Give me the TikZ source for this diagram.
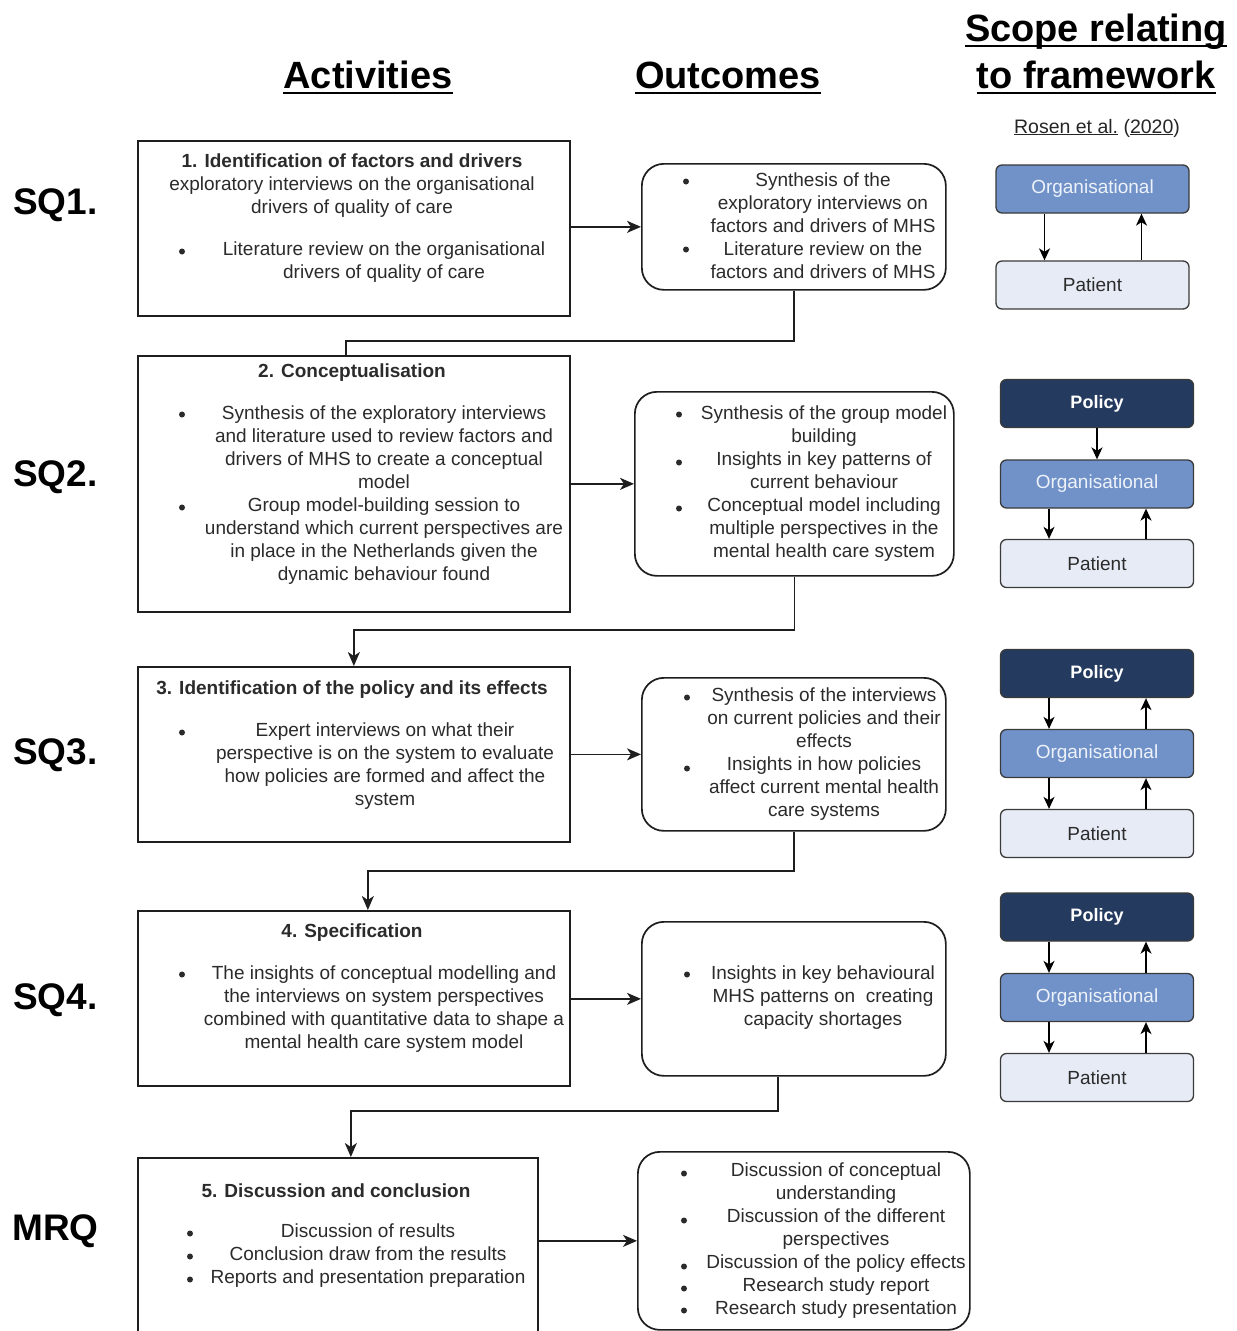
\documentclass[tikz,border=0pt]{standalone}
\usepackage{fontspec}
\setmainfont{Liberation Sans}
\usetikzlibrary{arrows.meta}
\definecolor{txtgray}{HTML}{2B2B2B}
\definecolor{edge}{HTML}{1E1E1E}
\definecolor{orgfill}{HTML}{7092C8}
\definecolor{orgtext}{HTML}{EEF2FA}
\definecolor{polfill}{HTML}{243A5F}
\definecolor{patfill}{HTML}{E6EBF5}
\definecolor{fwedge}{HTML}{3A3A3A}

\begin{document}
\begin{tikzpicture}[x=1pt,y=-1pt,
  body/.style={font=\fontsize{19}{23}\selectfont, text=txtgray, align=center, inner sep=0pt},
  bul/.style={circle, fill=txtgray, inner sep=0pt, minimum size=6pt, yshift=-1.5pt},
  actbox/.style={draw=edge, line width=1.7pt, anchor=north west, inner sep=0pt},
  outbox/.style={actbox, rounded corners=22pt},
  conn/.style={draw=edge, line width=1.6pt},
  arr/.style={conn, -{Stealth[length=14pt,width=12pt,inset=4pt]}},
  head/.style={font=\fontsize{38}{44}\selectfont\bfseries, inner sep=0pt, anchor=base},
  headline/.style={line width=2.6pt},
  sq/.style={font=\fontsize{37}{44}\selectfont\bfseries, inner sep=0pt, anchor=base west},
  fwbox/.style={draw=fwedge, line width=1.3pt, rounded corners=6pt, minimum width=193pt,
    minimum height=48pt, inner sep=0pt, font=\fontsize{19}{23}\selectfont},
  org/.style={fwbox, fill=orgfill, text=orgtext},
  pol/.style={fwbox, fill=polfill, text=white, font=\fontsize{18}{23}\selectfont\bfseries},
  pat/.style={fwbox, fill=patfill, text=txtgray},
  farr/.style={draw=black, line width=1.5pt, -{Stealth[length=12pt,width=11pt,inset=3.5pt]}}
]
\useasboundingbox (0,0) rectangle (1237,1331);
\fill[white] (0,0) rectangle (1237,1331);
\clip (0,0) rectangle (1237,1331);

% ---------- column headings ----------
\node[head] (hact) at (368,88) {Activities};
\node[head] (hout) at (728,88) {Outcomes};
\node[head] (hsc1) at (1096,41) {Scope relating};
\node[head] (hsc2) at (1096,88) {to framework};
\foreach \h in {hact,hout,hsc1,hsc2}
  \draw[headline] ([yshift=-5pt]\h.base west) -- ([yshift=-5pt]\h.base east);
\node[body, anchor=base, text=black!85, font=\fontsize{19.5}{23}\selectfont] (ref) at (1097,133)
  {\underline{Rosen et al.} (\underline{2020})};

% ---------- row labels ----------
\node[sq] (sq1) at (13,214) {SQ1.};
\node[sq] (sq2) at (13,486) {SQ2.};
\node[sq] (sq3) at (13,764) {SQ3.};
\node[sq] (sq4) at (13,1009) {SQ4.};
\node[sq] (mrq) at (12,1240) {MRQ};

% ---------- activity boxes ----------
\node[actbox, minimum width=432pt, minimum height=175pt] (a1) at (137,140) {};
\node[actbox, minimum width=432pt, minimum height=256pt] (a2) at (137,355) {};
\node[actbox, minimum width=432pt, minimum height=175pt] (a3) at (137,666) {};
\node[actbox, minimum width=432pt, minimum height=175pt] (a4) at (137,910) {};
\node[actbox, minimum width=400pt, minimum height=190pt] (a5) at (137,1157) {};

% ---------- outcome boxes ----------
\node[outbox, minimum width=304pt, minimum height=126pt] (o1) at (641,163) {};
\node[outbox, minimum width=319pt, minimum height=184pt] (o2) at (634,391) {};
\node[outbox, minimum width=304pt, minimum height=153pt] (o3) at (641,677) {};
\node[outbox, minimum width=304pt, minimum height=154pt] (o4) at (641,921) {};
\node[outbox, minimum width=332pt, minimum height=178pt] (o5) at (637,1151) {};

% ---------- activity texts ----------
\node[body] (t1a) at (352,186) {\textbf{1. Identification of factors and drivers}\\
  exploratory interviews on the organisational\\drivers of quality of care};
\node[body] (t1b) at (384,262) {Literature review on the organisational\\drivers of quality of care};
\node[bul] (b1a) at (182,250) {};

\node[body] (t2a) at (352,373) {\textbf{2. Conceptualisation}};
\node[body] (t2b) at (384,495) {Synthesis of the exploratory interviews\\
  and literature used to review factors and\\drivers of MHS to create a conceptual\\model\\
  Group model-building session to\\understand which current perspectives are\\
  in place in the Netherlands given the\\dynamic behaviour found};
\node[bul] (b2a) at (182,413) {};
\node[bul] (b2b) at (182,506) {};

\node[body] (t3a) at (352,690) {\textbf{3. Identification of the policy and its effects}};
\node[body] (t3b) at (385,766) {Expert interviews on what their\\
  perspective is on the system to evaluate\\how policies are formed and affect the\\system};
\node[bul] (b3a) at (182,731) {};

\node[body] (t4a) at (352,933) {\textbf{4. Specification}};
\node[body] (t4b) at (384,1009) {The insights of conceptual modelling and\\
  the interviews on system perspectives\\combined with quantitative data to shape a\\
  mental health care system model};
\node[bul] (b4a) at (182,973) {};

\node[body] (t5a) at (336,1191) {\textbf{5. Discussion and conclusion}};
\node[body] (t5b) at (368,1256) {Discussion of results\\Conclusion draw from the results\\
  Reports and presentation preparation};
\node[bul] (b5a) at (190,1232) {};
\node[bul] (b5b) at (190,1255) {};
\node[bul] (b5c) at (190,1278) {};

% ---------- outcome texts ----------
\node[body] (u1) at (823,226) {Synthesis of the\\exploratory interviews on\\
  factors and drivers of MHS\\Literature review on the\\factors and drivers of MHS};
\node[bul] (c1a) at (686,180) {};
\node[bul] (c1b) at (686,248) {};

\node[body] (u2) at (824,483.5) {Synthesis of the group model\\building\\
  Insights in key patterns of\\current behaviour\\Conceptual model including\\
  multiple perspectives in the\\mental health care system};
\node[bul] (c2a) at (679,413) {};
\node[bul] (c2b) at (679,461) {};
\node[bul] (c2c) at (679,507) {};

\node[body] (u3) at (824,754) {Synthesis of the interviews\\on current policies and their\\
  effects\\Insights in how policies\\affect current mental health\\care systems};
\node[bul] (c3a) at (687,696) {};
\node[bul] (c3b) at (687,767) {};

\node[body] (u4) at (823,997.5) {Insights in key behavioural\\MHS patterns on\ \ creating\\
  capacity shortages};
\node[bul] (c4a) at (687,973) {};

\node[body] (u5) at (836,1241) {Discussion of conceptual\\understanding\\
  Discussion of the different\\perspectives\\Discussion of the policy effects\\
  Research study report\\Research study presentation};
\node[bul] (c5a) at (684,1172) {};
\node[bul] (c5b) at (684,1219) {};
\node[bul] (c5c) at (684,1265) {};
\node[bul] (c5d) at (684,1287) {};
\node[bul] (c5e) at (684,1309) {};

% ---------- activity -> outcome arrows ----------
\foreach \i in {1,...,5}
  \draw[arr] (a\i.east |- o\i.west) -- (o\i.west);

% ---------- outcome -> next activity connectors ----------
\draw[conn] (o1.south) -- ++(0,50) -| ([xshift=-8pt]a2.north);
\draw[arr] (o2.south) -- ++(0,53) -| (a3.north);
\draw[arr] (o3.south) -- ++(0,39) -| ([xshift=14pt]a4.north);
\draw[arr] ([xshift=-16pt]o4.south) -- ++(0,34) -| ([xshift=13pt]a5.north);

% ---------- framework: SQ1 ----------
\node[org] (org1) at (1092.5,189) {Organisational};
\node[pat] (pat1) at (1092.5,285) {Patient};
\draw[farr] ([xshift=-48pt]org1.south) -- ([xshift=-48pt]pat1.north);
\draw[farr] ([xshift=49pt]pat1.north) -- ([xshift=49pt]org1.south);

% ---------- framework: SQ2 ----------
\node[pol] (pol2) at (1097,403.5) {Policy};
\node[org] (org2) at (1097,484) {Organisational};
\node[pat] (pat2) at (1097,563.5) {Patient};
\draw[farr] (pol2.south) -- (org2.north);
\draw[farr] ([xshift=-48pt]org2.south) -- ([xshift=-48pt]pat2.north);
\draw[farr] ([xshift=49pt]pat2.north) -- ([xshift=49pt]org2.south);

% ---------- framework: SQ3 ----------
\node[pol] (pol3) at (1097,673.5) {Policy};
\node[org] (org3) at (1097,753.5) {Organisational};
\node[pat] (pat3) at (1097,833.5) {Patient};
\draw[farr] ([xshift=-48pt]pol3.south) -- ([xshift=-48pt]org3.north);
\draw[farr] ([xshift=49pt]org3.north) -- ([xshift=49pt]pol3.south);
\draw[farr] ([xshift=-48pt]org3.south) -- ([xshift=-48pt]pat3.north);
\draw[farr] ([xshift=49pt]pat3.north) -- ([xshift=49pt]org3.south);

% ---------- framework: SQ4 ----------
\node[pol] (pol4) at (1097,917) {Policy};
\node[org] (org4) at (1097,997.5) {Organisational};
\node[pat] (pat4) at (1097,1077.5) {Patient};
\draw[farr] ([xshift=-48pt]pol4.south) -- ([xshift=-48pt]org4.north);
\draw[farr] ([xshift=49pt]org4.north) -- ([xshift=49pt]pol4.south);
\draw[farr] ([xshift=-48pt]org4.south) -- ([xshift=-48pt]pat4.north);
\draw[farr] ([xshift=49pt]pat4.north) -- ([xshift=49pt]org4.south);
\end{tikzpicture}
\end{document}
